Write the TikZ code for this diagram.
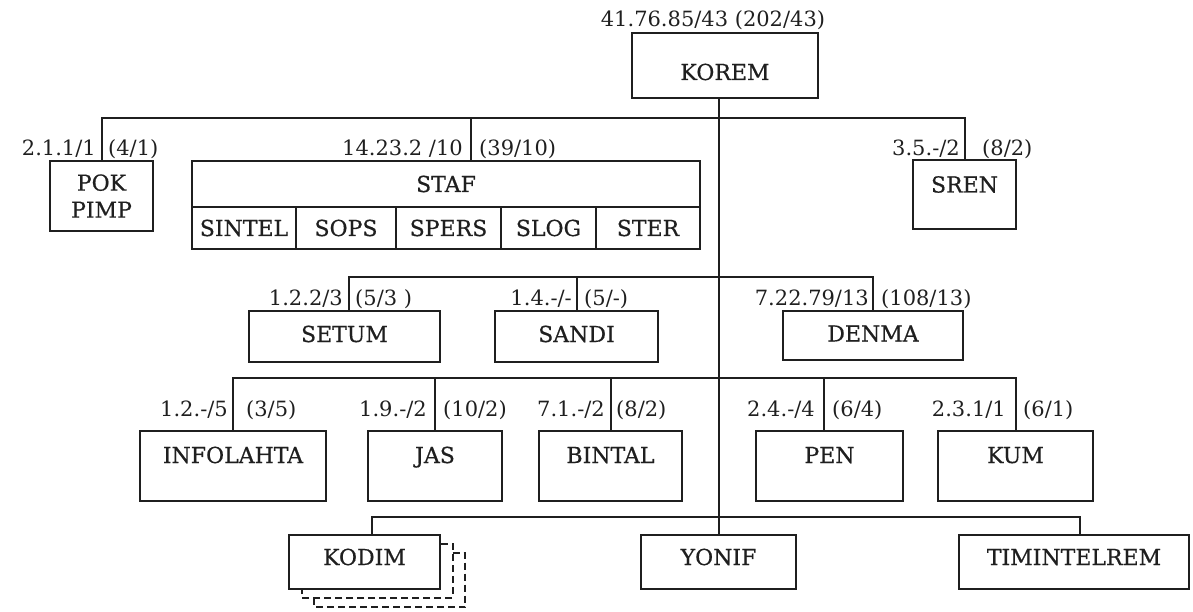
\documentclass[tikz,border=0pt]{standalone}
\usepackage{fontspec}
\setmainfont{DejaVu Serif}
\newfontfamily\unitfont{DejaVu Serif}[FakeBold=0.6]
\usepackage{tikz}
\usetikzlibrary{positioning,calc}
\definecolor{ink}{gray}{0.12}
\tikzset{
  unitbox/.style={draw=ink,line width=2pt,inner sep=0pt,text=ink,font=\unitfont\fontsize{22}{27}\selectfont},
  txtup/.style={text height=16pt,text depth=#1},
  txtup/.default=0pt,
  num/.style={inner sep=0pt,text=ink,font=\fontsize{21}{24}\selectfont},
  wire/.style={draw=ink,line width=2pt},
}

\begin{document}
\begin{tikzpicture}[x=1pt,y=-1pt]
\useasboundingbox (0,0) rectangle (1193,612);
\node[unitbox,text height=29pt,text depth=0pt,minimum width=186,minimum height=65] (korem) at (725,65.5) {KOREM};
\node[unitbox,align=center,minimum width=103,minimum height=70] (pok) at (101.5,196) {POK\\PIMP};
\node[unitbox,txtup,minimum width=508,minimum height=46] (staf) at (446,184) {STAF};
\node[unitbox,txtup,minimum width=104,minimum height=42] (sintel) at (244,228) {SINTEL};
\node[unitbox,txtup,minimum width=100,minimum height=42] (sops) at (346,228) {SOPS};
\node[unitbox,txtup,minimum width=105,minimum height=42] (spers) at (448.5,228) {SPERS};
\node[unitbox,txtup,minimum width=95,minimum height=42] (slog) at (548.5,228) {SLOG};
\node[unitbox,txtup,minimum width=104,minimum height=42] (ster) at (648,228) {STER};
\node[unitbox,txtup=20pt,minimum width=103,minimum height=69] (sren) at (964.5,194.5) {SREN};
\node[unitbox,txtup=5pt,minimum width=191,minimum height=51] (setum) at (344.5,336.5) {SETUM};
\node[unitbox,txtup=5pt,minimum width=163,minimum height=51] (sandi) at (576.5,336.5) {SANDI};
\node[unitbox,txtup=3pt,minimum width=180,minimum height=49] (denma) at (873,335) {DENMA};
\node[unitbox,txtup=22pt,minimum width=186,minimum height=70] (infolahta) at (233,466) {INFOLAHTA};
\node[unitbox,txtup=22pt,minimum width=134,minimum height=70] (jas) at (435,466) {JAS};
\node[unitbox,txtup=22pt,minimum width=143,minimum height=70] (bintal) at (610.5,466) {BINTAL};
\node[unitbox,txtup=22pt,minimum width=147,minimum height=70] (pen) at (829.5,466) {PEN};
\node[unitbox,txtup=22pt,minimum width=155,minimum height=70] (kum) at (1015.5,466) {KUM};
\node[unitbox,txtup=10pt,minimum width=151,minimum height=54] (kodim) at (364.5,562) {KODIM};
\node[unitbox,txtup=10pt,minimum width=155,minimum height=54] (yonif) at (718.5,562) {YONIF};
\node[unitbox,txtup=10pt,minimum width=230,minimum height=54] (timintelrem) at (1074,562) {TIMINTELREM};

\coordinate (bus1) at (0,118);
\coordinate (bus2) at (0,277);
\coordinate (bus3) at (0,378);
\coordinate (bus4) at (0,517);
\coordinate (stafin) at ([xshift=25pt]staf.north);
\coordinate (setumin) at ([xshift=4pt]setum.north);
\coordinate (penin) at ([xshift=-6pt]pen.north);
\coordinate (kodimin) at ([xshift=7pt]kodim.north);
\coordinate (timin) at ([xshift=6pt]timintelrem.north);

\draw[wire] (yonif.north |- korem.south) -- (yonif.north);
\draw[wire] (pok.north) -- (pok.north |- bus1) -- (sren.north |- bus1) -- (sren.north);
\draw[wire] (stafin) -- (stafin |- bus1);
\draw[wire] (setumin) -- (setumin |- bus2) -- (denma.north |- bus2) -- (denma.north);
\draw[wire] (sandi.north) -- (sandi.north |- bus2);
\draw[wire] (infolahta.north) -- (infolahta.north |- bus3) -- (kum.north |- bus3) -- (kum.north);
\draw[wire] (jas.north) -- (jas.north |- bus3);
\draw[wire] (bintal.north) -- (bintal.north |- bus3);
\draw[wire] (penin) -- (penin |- bus3);
\draw[wire] (kodimin) -- (kodimin |- bus4) -- (timin |- bus4) -- (timin);
\draw[wire,dash pattern=on 7pt off 4pt] ([shift={(0,9.5)}]kodim.north east) -- ++(11.5,0) -- ++(0,54) -- ++(-151,0) -- ++(0,-9.5);
\draw[wire,dash pattern=on 7pt off 4pt] ([shift={(11.5,19)}]kodim.north east) -- ++(12.5,0) -- ++(0,54) -- ++(-151,0) -- ++(0,-9.5);

\node[num,anchor=base] (korem-n) at (713,27) {41.76.85/43 (202/43)};
\node[num,anchor=base east] (pok-a) at (96,156) {2.1.1/1};
\node[num,anchor=base west] (pok-b) at (108,156) {(4/1)};
\node[num,anchor=base east] (staf-a) at (463,156) {14.23.2 /10};
\node[num,anchor=base west] (staf-b) at (479,156) {(39/10)};
\node[num,anchor=base east] (sren-a) at (960,156) {3.5.-/2};
\node[num,anchor=base west] (sren-b) at (982,156) {(8/2)};
\node[num,anchor=base east] (setum-a) at (343,305) {1.2.2/3};
\node[num,anchor=base west] (setum-b) at (355,305) {(5/3 )};
\node[num,anchor=base east] (sandi-a) at (572,305) {1.4.-/-};
\node[num,anchor=base west] (sandi-b) at (584,305) {(5/-)};
\node[num,anchor=base east] (denma-a) at (869,305) {7.22.79/13};
\node[num,anchor=base west] (denma-b) at (881,305) {(108/13)};
\node[num,anchor=base east] (infolahta-a) at (228,416) {1.2.-/5};
\node[num,anchor=base west] (infolahta-b) at (246,416) {(3/5)};
\node[num,anchor=base east] (jas-a) at (427,416) {1.9.-/2};
\node[num,anchor=base west] (jas-b) at (443,416) {(10/2)};
\node[num,anchor=base east] (bintal-a) at (605,416) {7.1.-/2};
\node[num,anchor=base west] (bintal-b) at (616,416) {(8/2)};
\node[num,anchor=base east] (pen-a) at (815,416) {2.4.-/4};
\node[num,anchor=base west] (pen-b) at (832,416) {(6/4)};
\node[num,anchor=base east] (kum-a) at (1006,416) {2.3.1/1};
\node[num,anchor=base west] (kum-b) at (1023,416) {(6/1)};
\end{tikzpicture}
\end{document}
